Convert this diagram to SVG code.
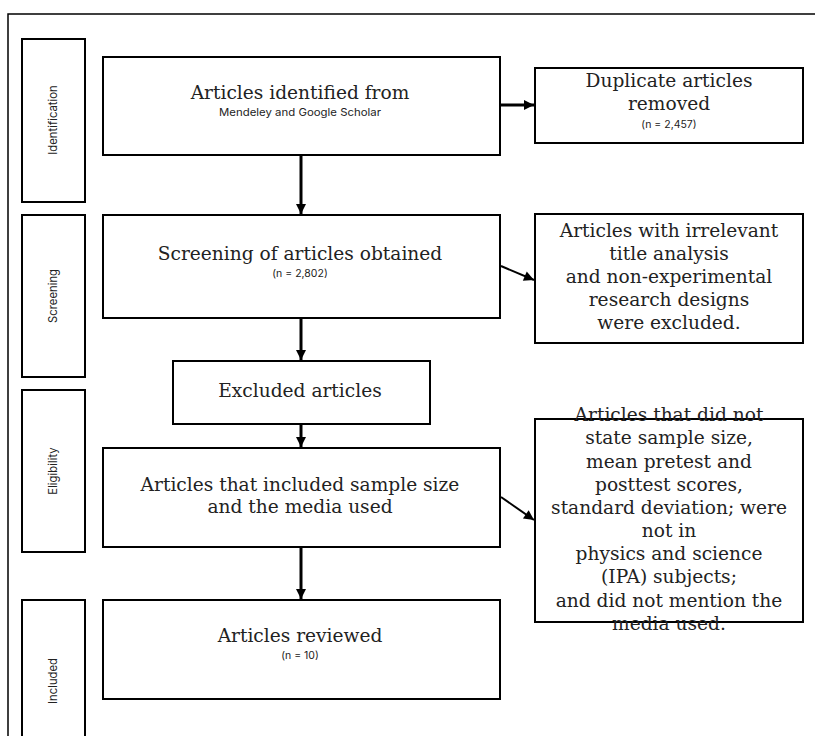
<svg xmlns="http://www.w3.org/2000/svg" width="815" height="736" viewBox="0 0 815 736">
<style>
.box{fill:#fff;stroke:#000;stroke-width:2}
.lab{fill:#fff;stroke:#000;stroke-width:2}
.t{font-family:"DejaVu Serif","Liberation Serif",serif;font-size:18.6px;fill:#222;text-anchor:middle}
.s{font-family:Inter,Roboto,"Liberation Sans",sans-serif;font-size:10.5px;fill:#222;text-anchor:middle}
.v{font-family:Inter,Roboto,"Liberation Sans",sans-serif;font-size:11.3px;fill:#222;text-anchor:middle}
.c{stroke:#000;stroke-width:3;fill:none}
.c2{stroke:#000;stroke-width:2;fill:none}
</style>
<defs>
<marker id="ah" markerUnits="userSpaceOnUse" markerWidth="12" markerHeight="12" refX="11" refY="6" orient="auto">
<path d="M1,1 L11,6 L1,11 z" fill="#000"/>
</marker>
</defs>
<rect x="0" y="0" width="815" height="736" fill="#fff"/>
<rect id="frame" x="8" y="14" width="830" height="760" fill="none" stroke="#000" stroke-width="1.5"/>
<g id="stage-identification"><rect class="lab" x="22" y="39" width="63" height="163"/><text class="v" transform="translate(57,120) rotate(-90)">Identification</text></g>
<g id="stage-screening"><rect class="lab" x="22" y="215" width="63" height="162"/><text class="v" transform="translate(57,296) rotate(-90)">Screening</text></g>
<g id="stage-eligibility"><rect class="lab" x="22" y="390" width="63" height="162"/><text class="v" transform="translate(57,471) rotate(-90)">Eligibility</text></g>
<g id="stage-included"><rect class="lab" x="22" y="600" width="63" height="162"/><text class="v" transform="translate(57,681) rotate(-90)">Included</text></g>
<g id="n-identified"><rect class="box" x="103" y="57" width="397" height="98"/><text class="t" x="300" y="99">Articles identified from</text><text class="s" x="300" y="116" textLength="162" lengthAdjust="spacingAndGlyphs">Mendeley and Google Scholar</text></g>
<g id="n-duplicate"><rect class="box" x="535" y="68" width="268" height="75"/><text class="t" x="669" y="87">Duplicate articles</text><text class="t" x="669" y="110">removed</text><text class="s" x="669" y="128">(n = 2,457)</text></g>
<g id="n-screening"><rect class="box" x="103" y="215" width="397" height="103"/><text class="t" x="300" y="260">Screening of articles obtained</text><text class="s" x="300" y="277">(n = 2,802)</text></g>
<g id="n-irrelevant"><rect class="box" x="535" y="214" width="268" height="129"/><text class="t" x="669" y="237">Articles with irrelevant</text><text class="t" x="669" y="260">title analysis</text><text class="t" x="669" y="283">and non-experimental</text><text class="t" x="669" y="306">research designs</text><text class="t" x="669" y="329">were excluded.</text></g>
<g id="n-excluded"><rect class="box" x="173" y="361" width="257" height="63"/><text class="t" x="300" y="397">Excluded articles</text></g>
<g id="n-eligible"><rect class="box" x="103" y="448" width="397" height="99"/><text class="t" x="300" y="491">Articles that included sample size</text><text class="t" x="300" y="513">and the media used</text></g>
<g id="n-notstated"><rect class="box" x="535" y="419" width="268" height="203"/><text class="t" x="669" y="421">Articles that did not</text><text class="t" x="669" y="444">state sample size,</text><text class="t" x="669" y="468">mean pretest and</text><text class="t" x="669" y="491">posttest scores,</text><text class="t" x="669" y="514">standard deviation; were</text><text class="t" x="669" y="537">not in</text><text class="t" x="669" y="560">physics and science</text><text class="t" x="669" y="583">(IPA) subjects;</text><text class="t" x="669" y="607">and did not mention the</text><text class="t" x="669" y="630">media used.</text></g>
<g id="n-reviewed"><rect class="box" x="103" y="600" width="397" height="99"/><text class="t" x="300" y="642">Articles reviewed</text><text class="s" x="300" y="659">(n = 10)</text></g>
<g id="connectors">
<line class="c" x1="301" y1="156" x2="301" y2="214" marker-end="url(#ah)"/>
<line class="c" x1="501" y1="105" x2="534" y2="105" marker-end="url(#ah)"/>
<line class="c2" x1="501" y1="266" x2="534" y2="280" marker-end="url(#ah)"/>
<line class="c" x1="301" y1="319" x2="301" y2="360" marker-end="url(#ah)"/>
<line class="c" x1="301" y1="425" x2="301" y2="447" marker-end="url(#ah)"/>
<line class="c2" x1="501" y1="497" x2="534" y2="520" marker-end="url(#ah)"/>
<line class="c" x1="301" y1="548" x2="301" y2="599" marker-end="url(#ah)"/>
</g>
</svg>
